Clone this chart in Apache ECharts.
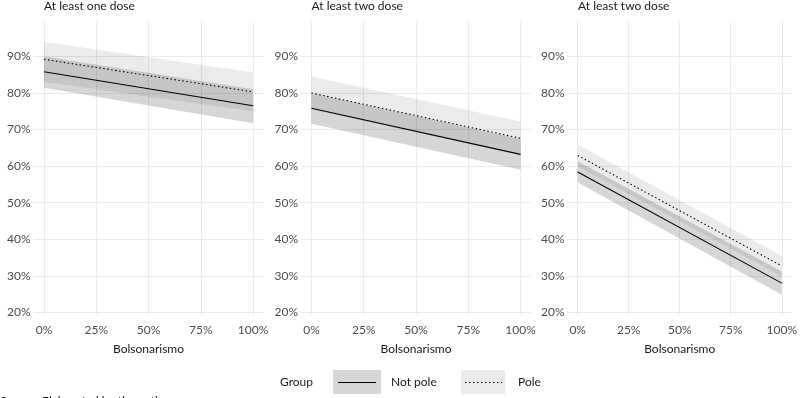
<!DOCTYPE html>
<html>
<head>
<meta charset="utf-8">
<script src="https://cdn.jsdelivr.net/npm/echarts@6/dist/echarts.min.js"></script>
<style>
  html, body { margin: 0; padding: 0; background: #fff; }
  #chart { width: 800px; height: 398px; }
</style>
</head>
<body>
<div id="chart"></div>
<script>
// values (percent), at Bolsonarismo = 0% and 100%
const xValues = [0, 100]
const panelTitles = ['At least one dose', 'At least two dose', 'At least two dose']
const notPoleFit = [[85.8, 76.5], [75.8, 63.2], [58.4, 28.0]]
const notPoleLow = [[81.4, 71.7], [71.6, 59.0], [55.5, 24.8]]
const notPoleHigh = [[90.0, 81.0], [80.0, 67.4], [61.3, 31.2]]
const poleFit = [[89.2, 80.3], [80.0, 67.6], [62.9, 32.7]]
const poleLow = [[83.0, 75.0], [75.5, 63.0], [59.9, 29.9]]
const poleHigh = [[94.0, 85.6], [84.5, 72.2], [65.9, 35.5]]
const xTicks = [0, 25, 50, 75, 100]
const yTicks = [20, 30, 40, 50, 60, 70, 80, 90]

const FONT = 'Lato, "Open Sans", sans-serif'
const panelLefts = [33.5, 301, 567.5]
const panelWidth = 230
const gridTop = 22
const gridHeight = 293.3
const notPoleFill = 'rgba(0,0,0,0.16)'
const poleFill = 'rgba(0,0,0,0.08)'

const chart = echarts.init(document.getElementById('chart'))

const grids = []
const xAxes = []
const yAxes = []
const series = []

const bandItem = (low, high) => [xValues[0], xValues[1], low[0], low[1], high[0], high[1]]

const renderBand = (fill) => (params, api) => {
  const p1 = api.coord([api.value(0), api.value(2)])
  const p2 = api.coord([api.value(1), api.value(3)])
  const p3 = api.coord([api.value(1), api.value(5)])
  const p4 = api.coord([api.value(0), api.value(4)])
  return {
    type: 'polygon',
    shape: { points: [p1, p2, p3, p4] },
    style: { fill: fill }
  }
}

panelTitles.forEach((title, i) => {
  grids.push({
    left: panelLefts[i],
    top: gridTop,
    width: panelWidth,
    height: gridHeight
  })
  xAxes.push({
    type: 'value',
    gridIndex: i,
    min: -5,
    max: 105,
    name: 'Bolsonarismo',
    nameLocation: 'middle',
    nameGap: 28,
    nameTextStyle: { color: '#1a1a1a', fontSize: 12, fontFamily: FONT },
    axisLine: { show: false },
    axisTick: { show: false, customValues: xTicks },
    axisLabel: {
      customValues: xTicks,
      color: '#4d4d4d',
      fontSize: 12,
      fontFamily: FONT,
      margin: 9,
      formatter: (v) => v + '%'
    },
    splitLine: { show: true, lineStyle: { color: '#ebebeb', width: 1 } }
  })
  yAxes.push({
    type: 'value',
    gridIndex: i,
    min: 19.2,
    max: 99.4,
    axisLine: { show: false },
    axisTick: { show: false, customValues: yTicks },
    axisLabel: {
      customValues: yTicks,
      color: '#4d4d4d',
      fontSize: 12,
      fontFamily: FONT,
      margin: 3,
      formatter: (v) => v + '%'
    },
    splitLine: { show: true, lineStyle: { color: '#ebebeb', width: 1 } }
  })

  series.push({
    type: 'custom',
    xAxisIndex: i,
    yAxisIndex: i,
    silent: true,
    encode: { x: [0, 1], y: [2, 3, 4, 5] },
    renderItem: renderBand(notPoleFill),
    data: [bandItem(notPoleLow[i], notPoleHigh[i])],
    z: 1
  })
  series.push({
    type: 'custom',
    xAxisIndex: i,
    yAxisIndex: i,
    silent: true,
    encode: { x: [0, 1], y: [2, 3, 4, 5] },
    renderItem: renderBand(poleFill),
    data: [bandItem(poleLow[i], poleHigh[i])],
    z: 1
  })
  series.push({
    name: 'Not pole',
    type: 'line',
    xAxisIndex: i,
    yAxisIndex: i,
    symbol: 'none',
    silent: true,
    lineStyle: { color: '#000', width: 1.1, type: 'solid' },
    data: xValues.map((x, k) => [x, notPoleFit[i][k]]),
    z: 3
  })
  series.push({
    name: 'Pole',
    type: 'line',
    xAxisIndex: i,
    yAxisIndex: i,
    symbol: 'none',
    silent: true,
    lineStyle: { color: '#000', width: 1.1, type: [1.5, 2.5] },
    data: xValues.map((x, k) => [x, poleFit[i][k]]),
    z: 3
  })
})

const titles = panelTitles.map((t, i) => ({
  type: 'text',
  left: panelLefts[i] + 10.5,
  top: 0,
  style: { text: t, fill: '#1a1a1a', font: '12px ' + FONT }
}))

// legend drawn by hand: ggplot style keys
const legend = [
  { type: 'text', left: 280, top: 376, style: { text: 'Group', fill: '#1a1a1a', font: '12px ' + FONT } },
  { type: 'rect', shape: { x: 333, y: 370, width: 48, height: 24 }, style: { fill: notPoleFill } },
  { type: 'line', shape: { x1: 338, y1: 382.5, x2: 376, y2: 382.5 }, style: { stroke: '#000', lineWidth: 1.1 } },
  { type: 'text', left: 391, top: 376, style: { text: 'Not pole', fill: '#1a1a1a', font: '12px ' + FONT } },
  { type: 'rect', shape: { x: 461, y: 370, width: 44, height: 24 }, style: { fill: poleFill } },
  { type: 'line', shape: { x1: 465, y1: 382.5, x2: 502, y2: 382.5 }, style: { stroke: '#000', lineWidth: 1.1, lineDash: [1.5, 2.5] } },
  { type: 'text', left: 518, top: 376, style: { text: 'Pole', fill: '#1a1a1a', font: '12px ' + FONT } },
  { type: 'text', left: 0, top: 395, style: { text: 'Source: Elaborated by the authors', fill: '#1a1a1a', font: '12px ' + FONT } }
]

chart.setOption({
  animation: false,
  grid: grids,
  xAxis: xAxes,
  yAxis: yAxes,
  series: series,
  graphic: titles.concat(legend)
})
</script>
</body>
</html>
